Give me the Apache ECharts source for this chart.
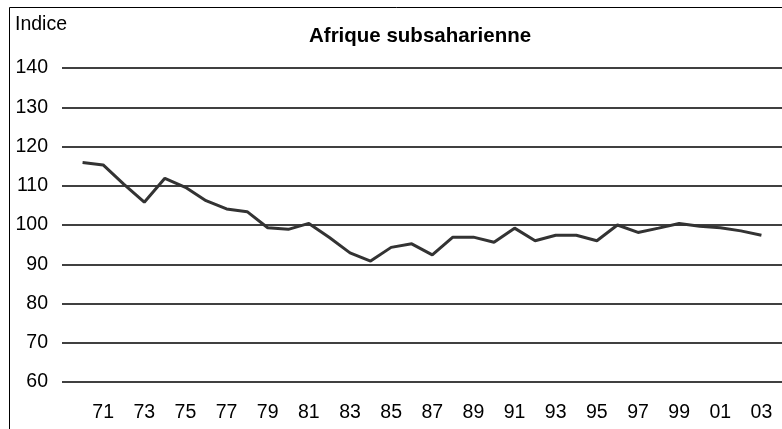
<!DOCTYPE html>
<html>
<head>
<meta charset="utf-8">
<script src="https://cdn.jsdelivr.net/npm/echarts@6/dist/echarts.min.js"></script>
<style>
  html, body { margin: 0; padding: 0; background: #fff; }
  #chart { width: 782px; height: 429px; }
</style>
</head>
<body>
<div id="chart"></div>
<script>
// years on the axis (1969 and 2004 only pad the ends, no value there)
var years = [];
for (var y = 1969; y <= 2004; y++) years.push(y);

// index values, 1970 -> 2003
var indice = [
  null,
  115.9, 115.3, 110.4, 105.8, 111.9, 109.6, 106.2, 104.1, 103.4, 99.3,
  98.9, 100.4, 96.8, 92.9, 90.8, 94.3, 95.2, 92.4, 96.9, 96.9,
  95.6, 99.2, 96.0, 97.4, 97.4, 96.0, 100.0, 98.1, 99.2, 100.4,
  99.7, 99.3, 98.5, 97.4,
  null
];

var dom = document.getElementById('chart');
var myChart = echarts.init(dom);
var font = 'Liberation Sans, Arial, sans-serif';

var option = {
  animation: false,
  backgroundColor: '#fff',
  title: {
    text: 'Afrique subsaharienne',
    left: 304,
    top: 21,
    textStyle: { fontFamily: font, fontSize: 20.5, fontWeight: 'bold', color: '#000' }
  },
  graphic: [
    {
      type: 'rect',
      shape: { x: 9.5, y: 7.5, width: 900, height: 600 },
      style: { fill: 'none', stroke: '#000', lineWidth: 1 },
      silent: true
    },
    {
      type: 'text',
      left: 15,
      top: 15,
      style: { text: 'Indice', fontFamily: font, fontSize: 19.5, fill: '#000' }
    }
  ],
  grid: { left: 62, right: 0, top: 68, bottom: 47 },
  xAxis: {
    type: 'category',
    data: years,
    boundaryGap: false,
    axisLine: { show: false },
    axisTick: { show: false },
    splitLine: { show: false },
    axisLabel: {
      margin: 21,
      fontFamily: font,
      fontSize: 19.5,
      color: '#000',
      interval: function (i, v) {
        var n = Number(v);
        return n >= 1971 && n <= 2003 && n % 2 === 1;
      },
      formatter: function (v) {
        return String(Number(v) % 100).padStart(2, '0');
      }
    }
  },
  yAxis: {
    type: 'value',
    min: 60,
    max: 140,
    interval: 10,
    axisLine: { show: false },
    axisTick: { show: false },
    axisLabel: { margin: 14, fontFamily: font, fontSize: 19.5, color: '#000' },
    splitLine: { lineStyle: { color: '#000', width: 1.5 } }
  },
  series: [
    {
      type: 'line',
      data: indice,
      symbol: 'none',
      connectNulls: false,
      lineStyle: { color: '#333', width: 3 }
    }
  ]
};

myChart.setOption(option);
</script>
</body>
</html>
